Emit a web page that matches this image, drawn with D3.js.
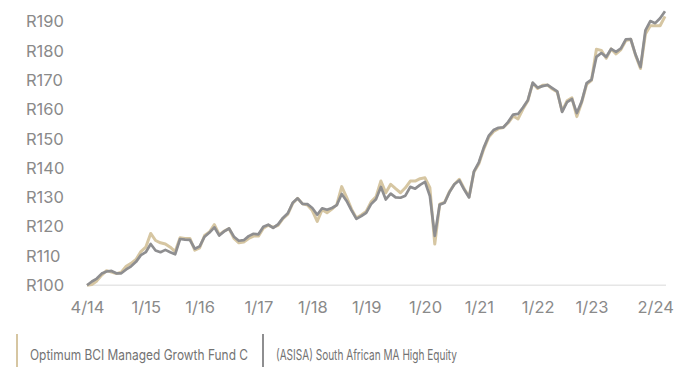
<!DOCTYPE html>
<html>
<head>
<meta charset="utf-8">
<script src="https://cdn.jsdelivr.net/npm/d3@7/dist/d3.min.js"></script>
<style>
  html, body { margin: 0; padding: 0; background: #ffffff; }
  svg { display: block; font-family: Inter, "Noto Sans", sans-serif; }
</style>
</head>
<body>
<svg id="chart" width="694" height="367"></svg>
<script>
// Growth of R100, monthly, 4/14 to 2/24
const fundName = "Optimum BCI Managed Growth Fund C";
const sectorName = "(ASISA) South African MA High Equity";

const fundValues = [
  100.0, 100.3, 101.5, 103.5, 105.0, 104.5, 104.0, 104.5, 106.5, 107.5,
  108.8, 111.5, 113.0, 117.7, 115.3, 114.5, 114.1, 113.0, 111.5, 116.2,
  116.0, 116.0, 112.0, 112.8, 117.0, 118.2, 120.7, 117.3, 118.5, 119.4,
  116.0, 114.5, 114.8, 116.0, 116.8, 116.8, 119.5, 120.5, 119.8, 120.5,
  122.8, 124.3, 128.0, 129.7, 127.8, 127.4, 125.5, 121.8, 125.8, 124.8,
  126.0, 127.5, 133.7, 130.0, 126.0, 123.0, 124.0, 125.2, 128.5, 130.2,
  135.6, 131.6, 134.5, 133.0, 131.6, 133.3, 135.6, 135.6, 136.4, 136.7,
  133.3, 114.1, 127.7, 128.3, 132.0, 134.5, 136.2, 133.0, 130.2, 138.7,
  141.5, 146.5, 150.5, 152.5, 153.5, 153.9, 155.5, 157.8, 156.8, 160.2,
  163.0, 169.0, 167.2, 168.3, 168.4, 167.0, 166.0, 159.5, 163.0, 164.0,
  157.6, 162.5, 168.6, 170.0, 180.6, 180.2, 177.5, 180.7, 179.0, 180.5,
  183.6, 184.0, 178.5, 174.0, 185.8, 188.6, 188.6, 188.6, 191.8
];

const sectorValues = [
  100.0, 101.3, 102.3, 104.0, 104.7, 104.9, 104.1, 104.1, 105.4, 106.5,
  108.0, 110.3, 111.3, 114.1, 111.9, 111.3, 112.1, 111.3, 110.6, 115.8,
  115.6, 115.5, 112.5, 113.3, 116.6, 118.0, 119.8, 117.0, 118.4, 119.4,
  116.6, 115.2, 115.4, 116.8, 117.6, 117.4, 120.0, 120.7, 119.6, 120.8,
  123.0, 124.6, 128.2, 129.7, 127.8, 127.7, 126.4, 124.1, 126.3, 125.8,
  126.4, 127.4, 131.2, 128.8, 125.6, 122.7, 123.6, 124.7, 127.7, 129.4,
  133.6, 129.3, 131.3, 130.0, 129.9, 130.6, 133.6, 133.0, 134.3, 135.3,
  130.5, 116.9, 127.5, 128.2, 131.8, 134.5, 135.8, 132.7, 130.0, 138.9,
  142.0, 147.0, 151.0, 153.0, 153.8, 153.9, 155.8, 158.3, 158.5, 160.7,
  163.2, 169.2, 167.5, 168.0, 168.4, 167.3, 166.2, 159.2, 162.5, 163.6,
  158.8, 162.8, 169.0, 170.2, 178.0, 179.3, 178.0, 180.7, 179.7, 180.9,
  184.0, 184.1, 178.7, 174.5, 187.0, 190.2, 189.5, 191.2, 193.6
];

// x-axis labels and the month index each one sits on
const xTickLabels = ["4/14", "1/15", "1/16", "1/17", "1/18", "1/19", "1/20", "1/21", "1/22", "1/23", "2/24"];
const xTickIndex = [0, 12, 23, 35, 46, 57, 69, 80, 92, 103, 116];

const yTickValues = [100, 110, 120, 130, 140, 150, 160, 170, 180, 190];

const fundColor = "#d6c6a2";
const sectorColor = "#8e8e90";
const textColor = "#8a8a8a";

const svg = d3.select("#chart");

const x = d3.scaleLinear()
  .domain([0, fundValues.length - 1])
  .range([87, 665]);

const y = d3.scaleLinear()
  .domain([100, 190])
  .range([285.3, 21.7]);

// y labels (left aligned, no axis line)
svg.append("g")
  .selectAll("text")
  .data(yTickValues)
  .join("text")
  .attr("x", 26)
  .attr("y", d => y(d))
  .attr("dy", "0.35em")
  .attr("fill", textColor)
  .style("font-size", "16.5px")
  .text(d => "R" + d);

// baseline
svg.append("line")
  .attr("x1", 87).attr("x2", 666)
  .attr("y1", y(100)).attr("y2", y(100))
  .attr("stroke", "#e6e6e6")
  .attr("stroke-width", 1.6);

// x labels
const xAxis = d3.axisBottom(x)
  .tickValues(xTickIndex)
  .tickFormat((d, i) => xTickLabels[i])
  .tickSize(0)
  .tickPadding(16);

const gx = svg.append("g")
  .attr("transform", `translate(0,${y(100)})`)
  .call(xAxis);
gx.select(".domain").remove();
gx.selectAll("text")
  .attr("fill", textColor)
  .style("font-size", "16.5px")
  .style("font-family", "Inter, 'Noto Sans', sans-serif");

const line = d3.line()
  .x((d, i) => x(i))
  .y(d => y(d))
  .curve(d3.curveLinear);

svg.append("path")
  .datum(fundValues)
  .attr("fill", "none")
  .attr("stroke", fundColor)
  .attr("stroke-width", 3)
  .attr("stroke-linejoin", "round")
  .attr("d", line);

svg.append("path")
  .datum(sectorValues)
  .attr("fill", "none")
  .attr("stroke", sectorColor)
  .attr("stroke-width", 2.7)
  .attr("stroke-linejoin", "round")
  .attr("d", line);

// legend
const legendItems = [
  { name: fundName, color: fundColor, x: 17, width: 218 },
  { name: sectorName, color: sectorColor, x: 263, width: 181 }
];
const lg = svg.append("g");
lg.selectAll("rect")
  .data(legendItems)
  .join("rect")
  .attr("x", d => d.x - 1)
  .attr("y", 334)
  .attr("width", 2)
  .attr("height", 33)
  .attr("fill", d => d.color);
lg.selectAll("text")
  .data(legendItems)
  .join("text")
  .attr("x", d => d.x + 13)
  .attr("y", 360)
  .attr("fill", "#737373")
  .attr("textLength", d => d.width)
  .attr("lengthAdjust", "spacingAndGlyphs")
  .style("font-size", "14.5px")
  .text(d => d.name);
</script>
</body>
</html>
